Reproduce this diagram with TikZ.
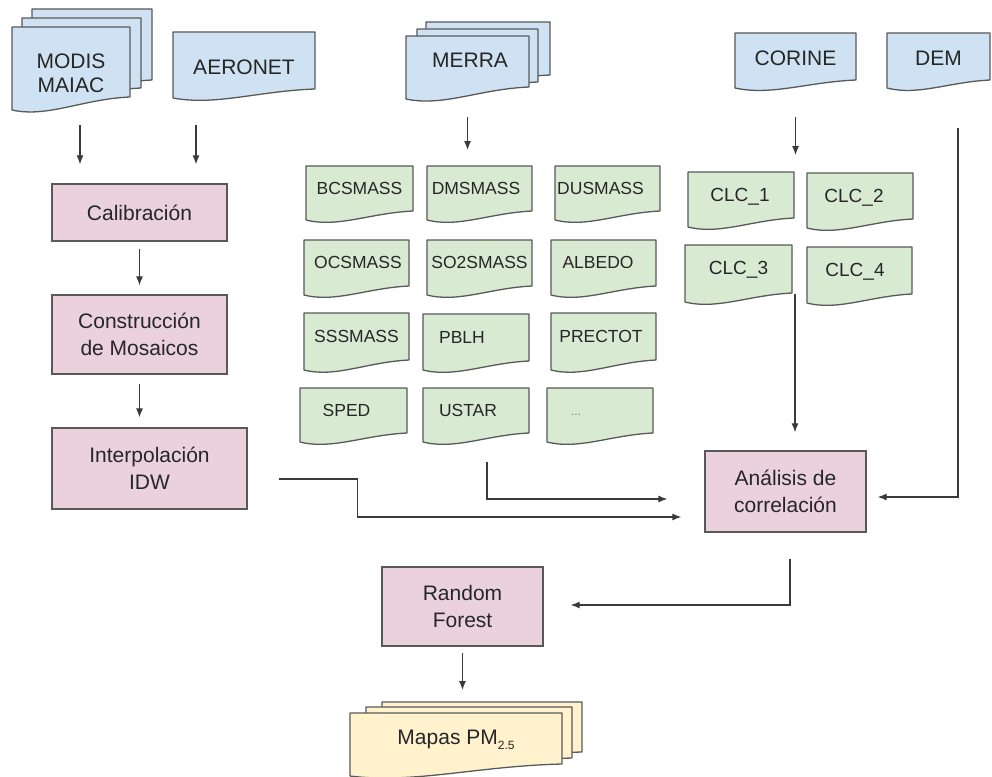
\documentclass[tikz,border=0pt]{standalone}
\usepackage{fontspec}
\setmainfont{Liberation Sans}
\usetikzlibrary{arrows.meta}
\definecolor{bluef}{HTML}{CFE2F3}
\definecolor{greenf}{HTML}{D9EAD3}
\definecolor{pinkf}{HTML}{EAD1DC}
\definecolor{yellowf}{HTML}{FFF2CC}
\definecolor{edge}{HTML}{595959}
\definecolor{txt}{HTML}{262626}
\definecolor{arrc}{HTML}{3A3A3A}
\tikzset{
 docline/.style={draw=edge, line width=1.3pt, line join=round},
 bluedoc/.style={docline, fill=bluef},
 greendoc/.style={docline, fill=greenf},
 yellowdoc/.style={docline, fill=yellowf},
 frame/.style={inner sep=0pt, outer sep=0pt, draw=none, rectangle},
 bigtext/.style={font=\fontsize{21}{23.5}\selectfont, text=txt, align=center, inner sep=0pt},
 smalltext/.style={font=\fontsize{17.5}{20}\selectfont, text=txt, inner sep=0pt},
 clctext/.style={font=\fontsize{19}{22}\selectfont, text=txt, inner sep=0pt},
 dotstext/.style={font=\fontsize{12}{14}\selectfont, text=gray, inner sep=0pt},
 procbox/.style={draw=edge, line width=1.3pt, fill=pinkf, font=\fontsize{21}{26.5}\selectfont, text=txt, align=center, inner sep=0pt},
 arr/.style={draw=arrc, line width=1.2pt, -{Latex[length=9pt,width=7pt]}},
}
% #1 style, #2 x1, #3 top, #4 x2, #5 yL, #6 yR
\newcommand\docshape[6]{%
  \path[#1] (#2,-#3) -- (#4,-#3) -- (#4,-#6) .. controls ({#2+0.6*(#4-#2)},{-#6-2}) and ({#2+0.3*(#4-#2)},{-#5-8}) .. (#2,-#5) -- cycle;
}
% #1 name, #2 style, #3 x1, #4 top, #5 x2, #6 yL, #7 yR, #8 label
\newcommand\docnode[8]{%
  \docshape{#2}{#3}{#4}{#5}{#6}{#7}
  \node[frame, minimum width={(#5-#3)*1pt}, minimum height={(#6-#4)*1pt}, #8] (#1) at ({(#3+#5)/2},{-(#4+#6)/2}) {};
}
\begin{document}
\begin{tikzpicture}[x=1pt,y=1pt]
\clip (0,0) rectangle (992,-776);
\fill[white] (0,0) rectangle (992,-776);

% ---------- input documents ----------
\docshape{bluedoc}{32}{9}{152}{92}{80}
\docshape{bluedoc}{22}{18}{141}{101}{88}
\docnode{modis}{bluedoc}{12}{27}{130}{110}{97}{label={[bigtext,yshift=-5pt]center:MODIS\\MAIAC}}
\docnode{aero}{bluedoc}{173}{32}{315}{98}{89}{label={[bigtext,yshift=-2pt]center:AERONET}}

\docshape{bluedoc}{426}{22}{550}{85}{75}
\docshape{bluedoc}{417}{29}{538}{92}{82}
\docnode{merra}{bluedoc}{406}{36}{529}{99}{87}{label={[bigtext,yshift=7.5pt,xshift=2.5pt]center:MERRA}}

\docnode{corine}{bluedoc}{735}{33}{856}{88}{80}{label={[bigtext,yshift=2.5pt]center:CORINE}}
\docnode{dem}{bluedoc}{887}{33}{990}{88}{80}{label={[bigtext,yshift=2.5pt]center:DEM}}

% ---------- MERRA variables ----------
\docnode{bcs}{greendoc}{306}{166}{413}{220}{211}{label={[smalltext,yshift=5pt]center:BCSMASS}}
\docnode{dms}{greendoc}{427}{166}{532}{220}{211}{label={[smalltext,yshift=5pt,xshift=-3.5pt]center:DMSMASS}}
\docnode{dus}{greendoc}{555}{166}{660}{220}{211}{label={[smalltext,yshift=5pt,xshift=-7pt]center:DUSMASS}}

\docnode{ocs}{greendoc}{304}{240}{409}{295}{286}{label={[smalltext,yshift=5pt,xshift=1.5pt]center:OCSMASS}}
\docnode{so2}{greendoc}{427}{240}{532}{295}{286}{label={[smalltext,yshift=5pt]center:SO2SMASS}}
\docnode{alb}{greendoc}{551}{240}{656}{295}{286}{label={[smalltext,yshift=5pt,xshift=-5.5pt]center:ALBEDO}}

\docnode{sss}{greendoc}{304}{313}{409}{370}{360}{label={[smalltext,yshift=5pt]center:SSSMASS}}
\docnode{pblh}{greendoc}{423}{314}{529}{370}{361}{label={[smalltext,yshift=5pt,xshift=-14pt]center:PBLH}}
\docnode{prec}{greendoc}{551}{313}{656}{370}{360}{label={[smalltext,yshift=5pt,xshift=-2.5pt]center:PRECTOT}}

\docnode{sped}{greendoc}{300}{388}{407}{442}{433}{label={[smalltext,yshift=5pt,xshift=-7pt]center:SPED}}
\docnode{ustar}{greendoc}{423}{388}{529}{442}{433}{label={[smalltext,yshift=5pt,xshift=-8pt]center:USTAR}}
\docnode{more}{greendoc}{547}{388}{653}{442}{433}{label={[dotstext,xshift=-24pt]center:...}}

% ---------- CORINE classes ----------
\docnode{clca}{greendoc}{688}{172}{794}{227}{218}{label={[clctext,yshift=2.5pt,xshift=-1pt]center:CLC\_1}}
\docnode{clcb}{greendoc}{807}{173}{913}{228}{219}{label={[clctext,yshift=2.5pt,xshift=-6pt]center:CLC\_2}}
\docnode{clcc}{greendoc}{685}{245}{792}{302}{293}{label={[clctext,yshift=3.5pt]center:CLC\_3}}
\docnode{clcd}{greendoc}{807}{247}{912}{303}{294}{label={[clctext,yshift=3pt,xshift=-4.5pt]center:CLC\_4}}

% ---------- process boxes ----------
\node[procbox, minimum width=175pt, minimum height=57pt] (calib) at (139.5,-212.5) {Calibración};
\node[procbox, minimum width=175pt, minimum height=79pt] (constr) at (139.5,-334.5) {Construcción\\de Mosaicos};
\node[procbox, minimum width=195pt, minimum height=81pt] (interp) at (149.5,-468.5) {Interpolación\\IDW};
\node[procbox, minimum width=161pt, minimum height=81pt] (anal) at (785.5,-491.5) {Análisis de\\correlación};
\node[procbox, minimum width=161pt, minimum height=79pt] (rf) at (462.5,-606.5) {Random\\Forest};

% ---------- output ----------
\docshape{yellowdoc}{382}{702}{582}{762}{752}
\docshape{yellowdoc}{366}{707}{572}{769}{758}
\docnode{mapas}{yellowdoc}{350}{713}{562}{776}{764}{label={[bigtext,yshift=4.5pt]center:Mapas PM\raisebox{-5pt}{\fontsize{12}{12}\selectfont 2.5}}}

% ---------- connectors ----------
\draw[arr, shorten <=15pt, shorten >=19pt] ([xshift=9pt]modis.south) -- ([xshift=9pt]modis.south |- calib.north);
\draw[arr, shorten <=27pt, shorten >=19pt] ([xshift=-48pt]aero.south) -- ([xshift=-48pt]aero.south |- calib.north);
\draw[arr, shorten <=7pt, shorten >=9pt] (calib.south) -- (constr.north);
\draw[arr, shorten <=9pt, shorten >=10pt] (constr.south) -- (constr.south |- interp.north);
\draw[arr, shorten <=18pt, shorten >=16pt] (merra.south) -- (merra.south |- dms.north);
\draw[arr, shorten <=29pt, shorten >=17pt] (corine.south) -- (corine.south |- clca.north);
\draw[arr, shorten <=-8pt, shorten >=18pt] ([xshift=3pt]clcc.south east) -- ([xshift=3pt]clcc.south east |- anal.north);
\draw[arr, shorten <=40pt, shorten >=11pt] ([xshift=19.5pt]dem.south) |- ([yshift=-5.5pt]anal.east);
\draw[arr, shorten <=20pt, shorten >=37pt] ([xshift=11pt]ustar.south) |- ([yshift=-7.5pt]anal.west);
\draw[arr, shorten <=31pt, shorten >=23pt] ([yshift=-10.5pt]interp.east) -- ++(110pt,0) |- ([yshift=-25.5pt]anal.west);
\draw[arr, shorten <=26pt, shorten >=27pt] ([xshift=4.5pt]anal.south) |- ([yshift=1.5pt]rf.east);
\draw[arr, shorten <=6pt, shorten >=23pt] (rf.south) -- (rf.south |- mapas.north);
\end{tikzpicture}
\end{document}
